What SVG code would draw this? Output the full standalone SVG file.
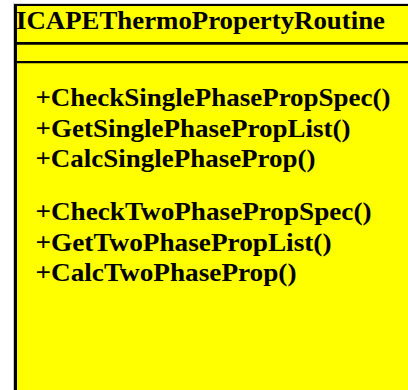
<svg xmlns="http://www.w3.org/2000/svg" width="408" height="390" viewBox="0 0 408 390">
<style>
.t{font-family:"Liberation Serif","Times New Roman",serif;font-weight:bold;fill:#000;}
.h{font-size:24.5px;}
.m{font-size:24.5px;}
.ln{stroke:#000;fill:none;}
</style>
<rect width="408" height="390" fill="#ffffff"/>
<g id="ICAPEThermoPropertyRoutine">
<rect x="13" y="3.3" width="400" height="392" fill="#c8c8c8"/>
<rect x="15.5" y="5" width="400" height="390" fill="#ffff00"/>
<line class="ln" x1="15.5" y1="4" x2="15.5" y2="395" stroke-width="3"/>
<line class="ln" x1="14" y1="5" x2="410" y2="5" stroke-width="2"/>
<line class="ln" x1="14" y1="43.4" x2="410" y2="43.4" stroke-width="2.6"/>
<line class="ln" x1="14" y1="62.2" x2="410" y2="62.2" stroke-width="2.3"/>
<text class="t h" x="16" y="28.5" textLength="369" lengthAdjust="spacingAndGlyphs">ICAPEThermoPropertyRoutine</text>
<text class="t m" x="35.5" y="106.2" textLength="355" lengthAdjust="spacingAndGlyphs">+CheckSinglePhasePropSpec()</text>
<text class="t m" x="35.5" y="136.5" textLength="315" lengthAdjust="spacingAndGlyphs">+GetSinglePhasePropList()</text>
<text class="t m" x="35.5" y="167" textLength="280" lengthAdjust="spacingAndGlyphs">+CalcSinglePhaseProp()</text>
<text class="t m" x="35.5" y="220.2" textLength="336" lengthAdjust="spacingAndGlyphs">+CheckTwoPhasePropSpec()</text>
<text class="t m" x="35.5" y="250.5" textLength="296" lengthAdjust="spacingAndGlyphs">+GetTwoPhasePropList()</text>
<text class="t m" x="35.5" y="281.2" textLength="261" lengthAdjust="spacingAndGlyphs">+CalcTwoPhaseProp()</text>
</g>
<g id="connectors"></g>
</svg>
